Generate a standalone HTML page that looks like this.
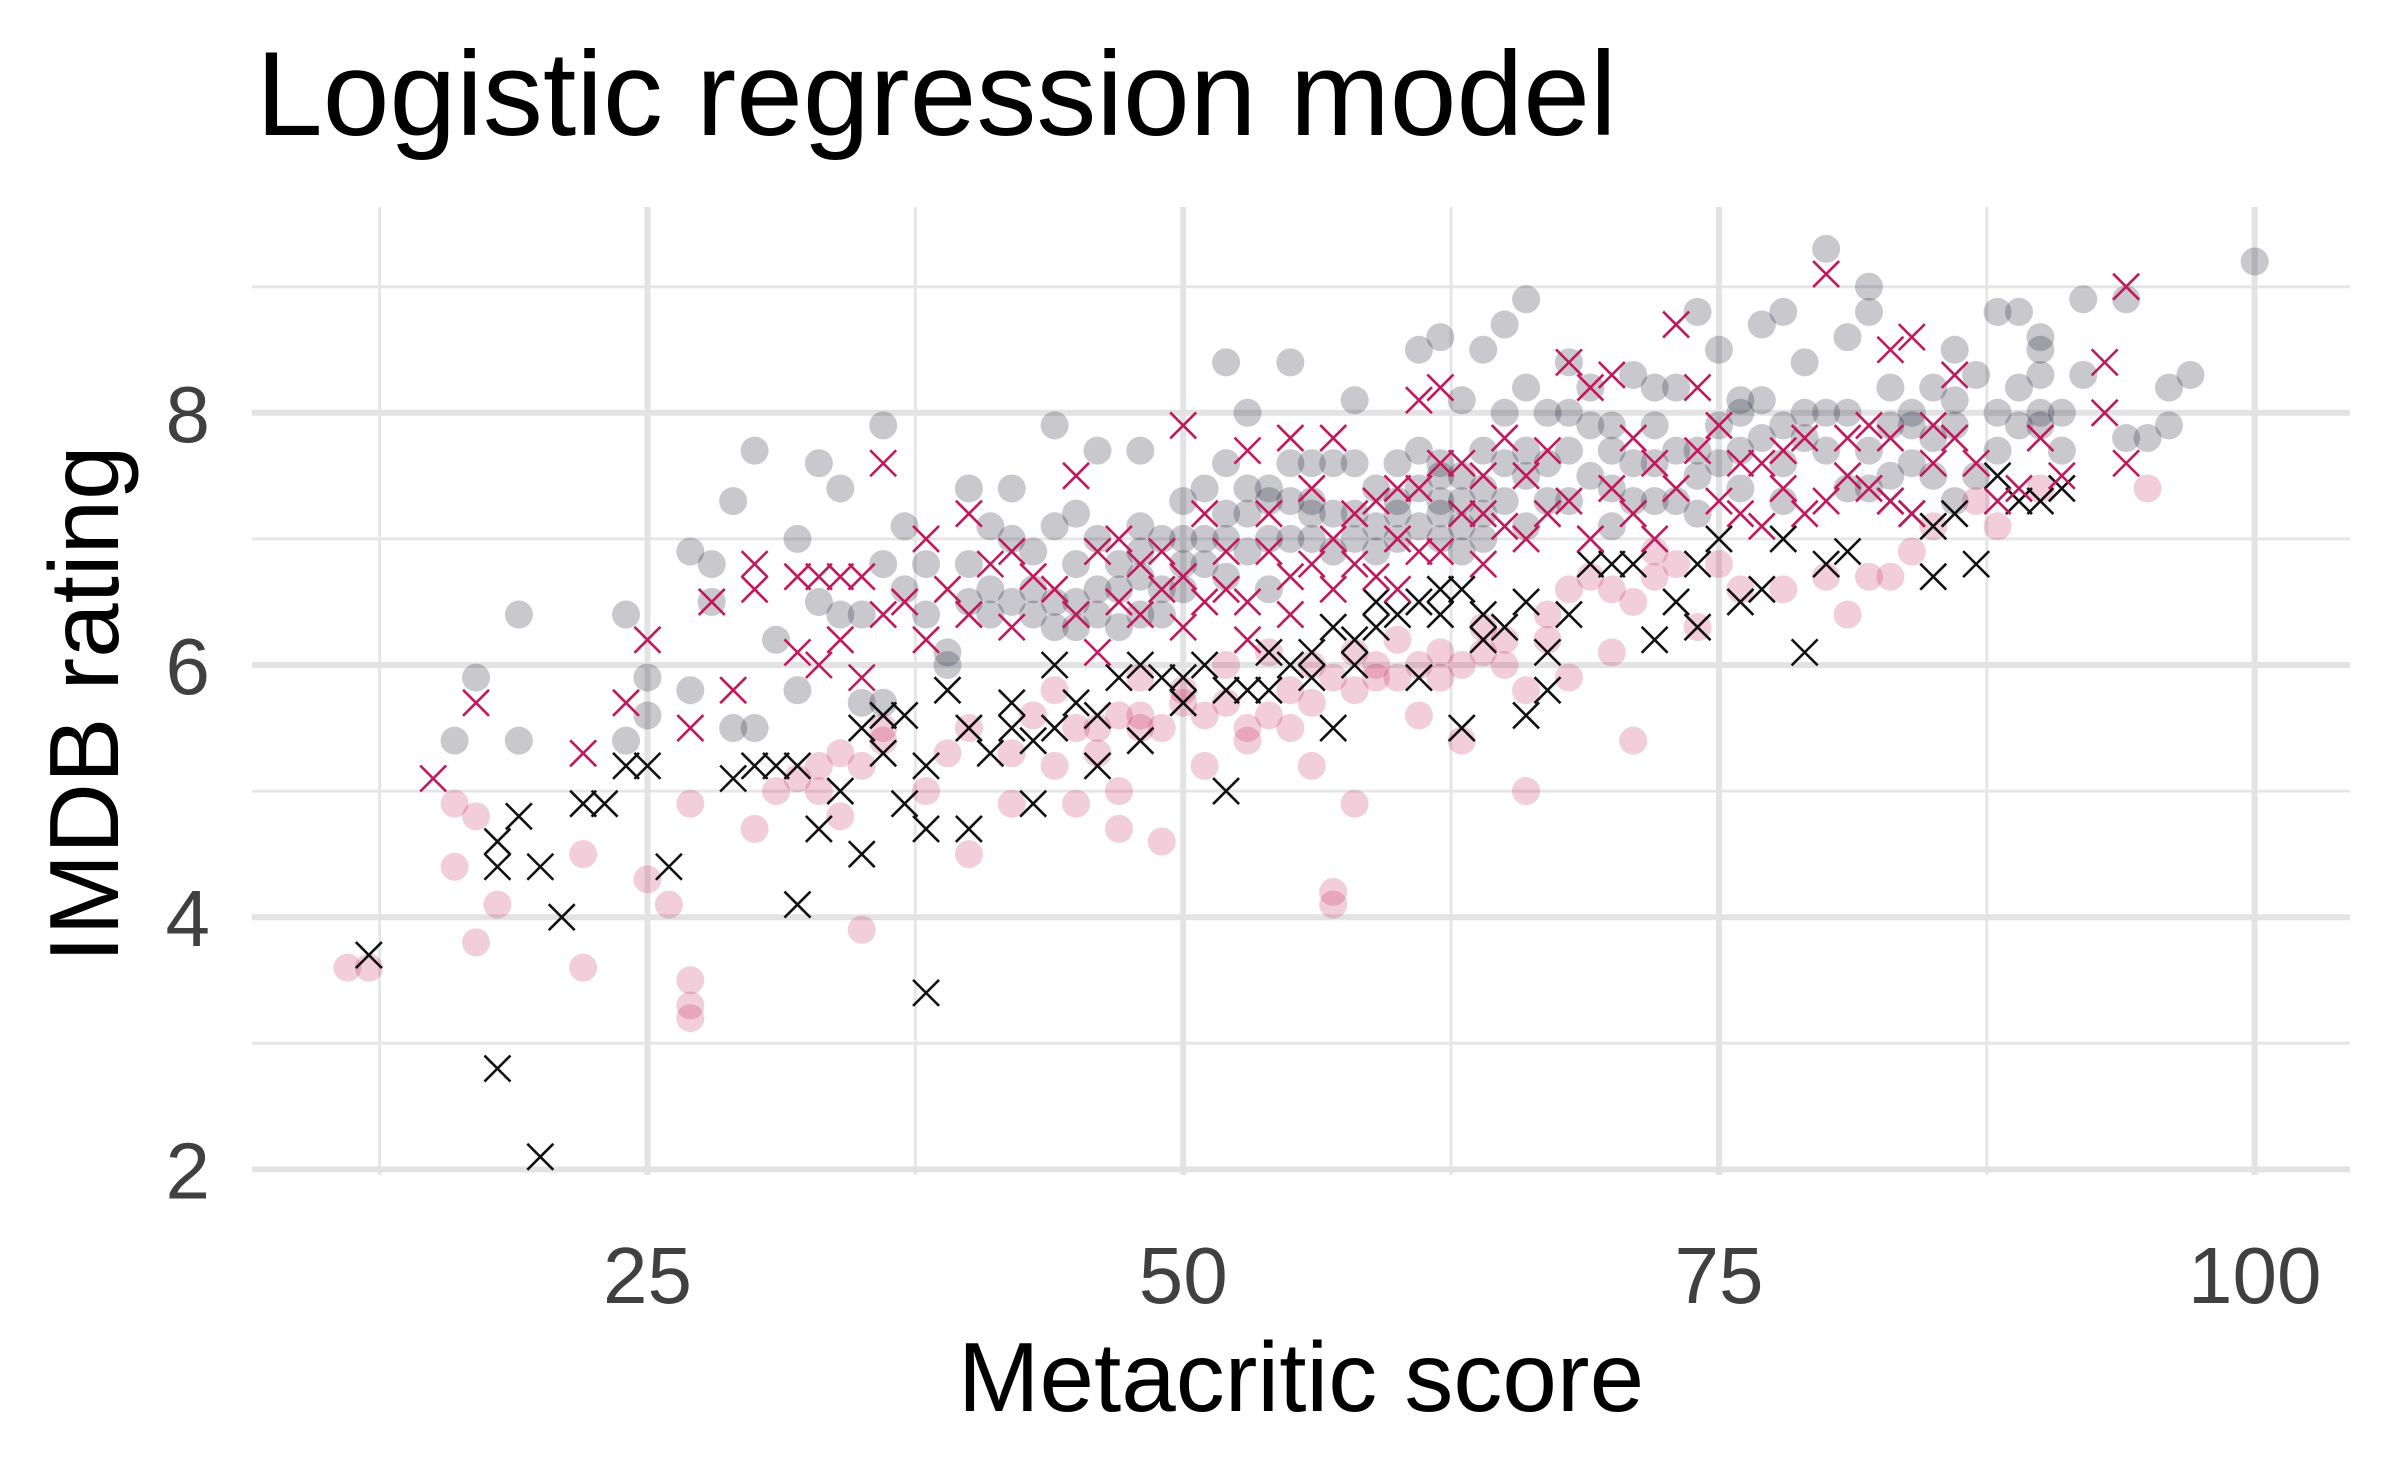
<!DOCTYPE html>
<html><head><meta charset="utf-8"><style>
html,body{margin:0;padding:0;background:#fff;}
svg{display:block;font-family:"Liberation Sans",sans-serif;}
</style></head><body>
<svg id="chart" width="2400" height="1483" viewBox="0 0 2400 1483" xmlns="http://www.w3.org/2000/svg">
<rect width="2400" height="1483" fill="#fff"/>
<g id="grid"></g>
<g id="marks"></g>
<g id="axes"></g>
<text x="256" y="135" font-size="120" fill="#000">Logistic regression model</text>
<text x="1301" y="1411" font-size="98" fill="#000" text-anchor="middle">Metacritic score</text>
<text transform="translate(118,704) rotate(-90)" font-size="98" fill="#000" text-anchor="middle">IMDB rating</text>
</svg>
<script>
const xMajor=[25,50,75,100];
const xMinor=[12.5,37.5,62.5,87.5];
const yMajor=[2,4,6,8];
const yMinor=[3,5,7,9];
const xTickLabels=["25","50","75","100"];
const yTickLabels=["2","4","6","8"];
const grayCircles=[[17,5.9],[16,5.4],[19,6.4],[19,5.4],[24,6.4],[24,5.4],[25,5.9],[25,5.6],[27,6.9],[27,5.8],[28,6.8],[28,6.5],[29,7.3],[30,7.7],[29,5.5],[30,5.5],[31,6.2],[32,7.0],[32,5.8],[33,7.6],[33,6.5],[34,7.4],[34,6.4],[35,6.4],[35,5.7],[36,7.9],[36,6.8],[36,5.7],[37,7.1],[37,6.6],[38,6.8],[38,6.4],[39,6.1],[39,6.0],[40,7.4],[40,6.8],[40,6.5],[41,7.1],[41,6.4],[42,7.4],[42,7.0],[43,6.9],[43,6.4],[44,7.9],[44,6.5],[45,7.2],[45,6.8],[45,6.3],[46,7.7],[46,7.0],[47,6.6],[47,6.3],[48,7.7],[48,6.4],[49,7.0],[49,6.6],[50,7.3],[50,6.8],[51,7.4],[51,6.8],[52,8.4],[52,7.6],[52,6.7],[53,8.0],[53,7.2],[54,7.0],[54,6.6],[55,8.4],[55,7.3],[56,7.6],[56,7.0],[57,7.6],[57,7.2],[58,8.1],[58,7.6],[59,7.4],[59,6.9],[60,7.6],[60,7.0],[61,8.5],[61,7.7],[61,7.1],[62,8.6],[62,7.6],[62,7.0],[63,8.1],[63,7.3],[63,6.9],[64,8.5],[64,7.7],[64,7.2],[65,8.7],[65,8.0],[65,7.3],[66,8.9],[66,8.2],[66,7.5],[67,8.0],[67,7.3],[68,8.4],[68,7.7],[69,8.2],[69,7.5],[70,7.9],[70,7.1],[71,8.3],[71,7.6],[72,8.2],[72,7.6],[73,8.2],[73,7.3],[74,8.8],[74,7.7],[75,8.5],[75,7.9],[76,8.1],[76,7.4],[77,8.7],[77,8.1],[78,8.8],[78,7.6],[79,8.4],[79,7.8],[80,9.3],[80,8.0],[81,8.6],[81,7.4],[82,9.0],[82,8.8],[82,7.7],[83,8.2],[83,7.5],[84,8.0],[84,7.6],[85,8.2],[85,7.8],[86,8.5],[86,7.9],[87,8.3],[87,7.5],[88,8.8],[88,8.0],[89,8.8],[89,8.2],[90,8.6],[90,8.3],[90,7.9],[91,8.0],[91,7.7],[92,8.9],[92,8.3],[94,8.9],[94,7.8],[95,7.8],[96,8.2],[96,7.9],[97,8.3],[100,9.2],[44,7.1],[48,7.1],[50,6.6],[54,7.4],[58,7.2],[62,7.3],[66,7.7],[70,7.7],[74,7.5],[78,7.9],[84,7.9],[86,7.3],
[41,6.6],[42,6.5],[43,6.6],[44,6.3],[45,6.5],[46,6.4],[47,6.8],[48,6.7],[49,6.4],[50,7.0],[51,7.0],[52,7.2],[52,7.0],[53,6.9],[53,7.4],[54,7.3],[55,7.0],[55,7.6],[56,7.3],[57,6.9],[58,7.0],[59,7.1],[60,7.3],[61,7.4],[62,7.2],[63,7.5],[63,7.1],[64,7.4],[64,7.0],[65,7.6],[66,7.1],[67,7.6],[68,7.3],[68,8.0],[69,7.9],[70,7.4],[71,7.3],[72,7.9],[72,7.3],[73,7.7],[74,7.2],[75,7.6],[76,7.7],[76,8.0],[77,7.8],[78,7.3],[79,8.0],[80,7.7],[81,8.0],[82,7.4],[83,7.9],[85,7.5],[86,8.1],[88,7.7],[89,7.9],[90,8.0],[90,8.5],[62,7.5],[60,7.2],[56,7.2],[46,6.6],[48,6.9]];
const pinkCircles=[[11,3.6],[12,3.6],[16,4.9],[16,4.4],[17,4.8],[17,3.8],[18,4.1],[22,4.5],[22,3.6],[25,4.3],[26,4.1],[27,4.9],[27,3.5],[27,3.3],[27,3.2],[30,4.7],[31,5.0],[32,5.1],[33,5.0],[34,4.8],[35,3.9],[34,5.3],[36,5.5],[38,5.0],[39,5.3],[40,4.5],[40,5.5],[42,5.3],[42,4.9],[43,5.6],[44,5.2],[45,4.9],[46,5.5],[47,4.7],[47,5.0],[48,5.5],[49,4.6],[49,5.5],[50,5.7],[51,5.2],[52,6.0],[53,5.4],[54,5.6],[55,5.5],[56,5.2],[57,4.2],[57,4.1],[58,4.9],[58,5.8],[59,6.0],[60,5.9],[61,5.6],[62,6.1],[63,5.4],[63,6.0],[64,6.3],[65,6.2],[66,5.0],[66,5.8],[67,6.4],[68,5.9],[68,6.6],[70,6.1],[71,5.4],[71,6.5],[72,6.7],[74,6.3],[75,6.8],[76,6.6],[78,6.6],[80,6.7],[81,6.4],[82,6.7],[83,6.7],[84,6.9],[85,7.1],[87,7.3],[88,7.1],[90,7.4],[95,7.4],[44,5.8],[48,5.9],[54,6.1],[56,6.0],
[45,5.5],[46,5.3],[47,5.6],[48,5.6],[50,5.8],[51,5.6],[52,5.7],[53,5.5],[55,5.8],[56,5.7],[57,5.9],[58,6.1],[59,5.9],[60,6.2],[61,6.0],[62,5.9],[64,6.1],[65,6.0],[67,6.2],[69,6.7],[70,6.6],[72,6.9],[73,6.8],[36,5.4],[35,5.2],[33,5.2]];
const blackCrosses=[[12,3.7],[18,4.6],[18,4.4],[19,4.8],[20,4.4],[21,4.0],[18,2.8],[20,2.1],[22,4.9],[23,4.9],[24,5.2],[25,5.2],[26,4.4],[29,5.1],[30,5.2],[31,5.2],[32,5.2],[32,4.1],[33,4.7],[34,5.0],[35,4.5],[35,5.5],[36,5.3],[37,4.9],[37,5.6],[38,4.7],[38,5.2],[38,3.4],[39,5.8],[40,4.7],[40,5.5],[41,5.3],[42,5.5],[43,5.4],[43,4.9],[44,6.0],[45,5.7],[46,5.2],[46,5.6],[47,5.9],[48,5.4],[49,5.9],[50,5.7],[51,6.0],[52,5.0],[53,5.8],[54,5.8],[55,6.0],[56,5.9],[57,5.5],[57,6.3],[58,6.2],[59,6.3],[60,6.4],[61,6.5],[61,5.9],[62,6.4],[63,5.5],[63,6.6],[64,6.4],[65,6.3],[66,5.6],[67,6.1],[67,5.8],[68,6.4],[69,6.8],[70,6.8],[71,6.8],[72,6.2],[73,6.5],[74,6.3],[74,6.8],[75,7.0],[76,6.5],[77,6.6],[78,7.0],[79,6.1],[80,6.8],[81,6.9],[83,7.3],[84,7.2],[85,6.7],[85,7.1],[86,7.2],[87,6.8],[88,7.5],[89,7.3],[90,7.3],[91,7.4],
[48,6.0],[50,5.9],[52,5.8],[54,6.1],[56,6.1],[58,6.0],[59,6.5],[62,6.6],[64,6.2],[66,6.5],[36,5.6],[42,5.7],[44,5.5]];
const pinkCrosses=[[15,5.1],[17,5.7],[22,5.3],[24,5.7],[25,6.2],[27,5.5],[28,6.5],[29,5.8],[30,6.8],[30,6.6],[32,6.7],[32,6.1],[33,6.7],[33,6.0],[34,6.7],[35,6.7],[35,5.9],[36,7.6],[37,6.5],[38,7.0],[38,6.2],[40,7.2],[40,6.4],[41,6.8],[42,6.3],[43,6.7],[44,6.6],[45,7.5],[45,6.4],[46,6.9],[47,7.0],[47,6.5],[48,6.8],[49,6.6],[50,7.9],[50,6.7],[51,7.2],[51,6.5],[52,6.9],[53,7.7],[53,6.2],[54,7.2],[55,7.8],[55,6.7],[56,7.4],[57,7.8],[57,7.0],[58,6.8],[59,7.3],[60,7.0],[61,8.1],[61,7.4],[62,8.2],[62,6.9],[63,7.6],[64,7.2],[65,7.8],[66,7.5],[66,7.0],[67,7.7],[68,8.4],[68,7.3],[69,8.2],[70,8.3],[70,7.4],[71,7.8],[72,7.6],[73,8.7],[73,7.4],[74,8.2],[74,7.7],[75,7.9],[75,7.3],[76,7.2],[77,7.6],[78,7.4],[79,7.8],[80,9.1],[80,7.3],[81,7.5],[82,7.4],[83,8.5],[83,7.8],[84,8.6],[84,7.2],[85,7.6],[86,8.3],[87,7.6],[88,7.3],[89,7.4],[90,7.8],[91,7.5],[93,8.4],[93,8.0],[94,9.0],[94,7.6],[60,6.6],[64,6.8],
[46,6.1],[48,6.4],[49,6.9],[50,6.3],[52,6.6],[53,6.5],[54,6.9],[55,6.4],[56,6.8],[57,6.6],[58,7.2],[59,6.7],[60,7.4],[61,6.9],[62,7.6],[63,7.2],[64,7.5],[65,7.1],[67,7.2],[69,7.0],[71,7.2],[72,7.0],[76,7.6],[77,7.1],[78,7.7],[79,7.2],[81,7.8],[82,7.9],[83,7.3],[85,7.9],[86,7.8],[34,6.2],[36,6.4],[39,6.6],[42,6.9]];

const NS="http://www.w3.org/2000/svg";
const PL=252,PR=2350,PT=207,PB=1175;
function sx(v){return 111.7+v*21.43;}
function sy(v){return 1421.6-v*126.1;}
function mk(tag,attrs,parent){const e=document.createElementNS(NS,tag);for(const k in attrs)e.setAttribute(k,attrs[k]);parent.appendChild(e);return e;}
const grid=document.getElementById('grid'),marks=document.getElementById('marks'),axes=document.getElementById('axes');
xMinor.forEach(v=>{const l=mk('line',{x1:sx(v),x2:sx(v),y1:PT,y2:PB,stroke:'#e6e6e6','stroke-width':3},grid);

});
yMinor.forEach(v=>{const l=mk('line',{x1:PL,x2:PR,y1:sy(v),y2:sy(v),stroke:'#e6e6e6','stroke-width':3},grid);

});
xMajor.forEach((v,i)=>{const l=mk('line',{x1:sx(v),x2:sx(v),y1:PT,y2:PB,stroke:'#e3e3e3','stroke-width':6},grid);


const t=mk('text',{x:sx(v),y:1303,'font-size':80,fill:'#404040','text-anchor':'middle'},axes);t.textContent=xTickLabels[i];

});
yMajor.forEach((v,i)=>{const l=mk('line',{x1:PL,x2:PR,y1:sy(v),y2:sy(v),stroke:'#e3e3e3','stroke-width':6},grid);


const t=mk('text',{x:210,y:sy(v)+29,'font-size':80,fill:'#404040','text-anchor':'end'},axes);t.textContent=yTickLabels[i];

});
grayCircles.forEach(p=>{const c=mk('circle',{cx:sx(p[0]),cy:sy(p[1]),r:14,fill:'#1a1a2e','fill-opacity':0.24},marks);

});
pinkCircles.forEach(p=>{const c=mk('circle',{cx:sx(p[0]),cy:sy(p[1]),r:14,fill:'#c51b58','fill-opacity':0.22},marks);

});
function cross(p,col,name){const x=sx(p[0]),y=sy(p[1]),h=13;
const e=mk('path',{d:`M${x-h},${y-h}L${x+h},${y+h}M${x-h},${y+h}L${x+h},${y-h}`,stroke:col,'stroke-width':2.6,fill:'none'},marks);

}
blackCrosses.forEach(p=>cross(p,'#111','black-cross'));
pinkCrosses.forEach(p=>cross(p,'#c2185b','pink-cross'));
</script>
</body></html>
